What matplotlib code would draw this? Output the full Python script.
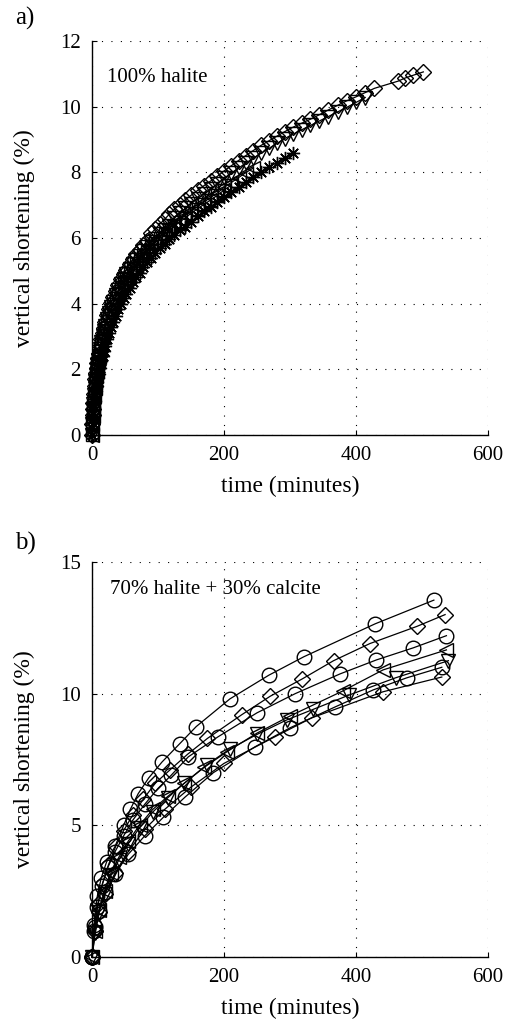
import matplotlib
matplotlib.use("Agg")
import matplotlib.pyplot as plt

plt.rcParams['font.family'] = ['Liberation Serif', 'DejaVu Serif']

# ---------------- Panel a: 100% halite ----------------
time_a = [0, 0.5, 1, 1.5, 2, 3, 4, 5, 6, 7, 8, 9, 10, 12, 14, 16, 18, 20, 23, 26,
          29, 32, 36, 40, 44, 48, 52, 57, 62, 67, 72, 78, 84, 90, 96, 103, 110, 117,
          125, 133, 141, 150, 160, 170, 180, 190, 200, 211, 222, 233, 244, 256, 268,
          280, 292, 305, 318, 331, 344, 358, 372, 386, 400, 414, 428, 464, 474, 487, 502]

a_diamond = [0, 0.35, 0.6, 0.8, 0.97, 1.25, 1.5, 1.7, 1.88, 2.04,
             2.2, 2.34, 2.47, 2.7, 2.91, 3.1, 3.27, 3.43, 3.65, 3.85,
             4.03, 4.19, 4.39, 4.57, 4.74, 4.9, 5.04, 5.21, 5.36, 5.5,
             5.63, 5.78, 5.92, 6.15, 6.28, 6.43, 6.57, 6.72, 6.88, 7.02,
             7.16, 7.3, 7.45, 7.6, 7.74, 7.88, 8.04, 8.2, 8.36, 8.51,
             8.66, 8.82, 8.96, 9.1, 9.24, 9.38, 9.5, 9.62, 9.75, 9.9,
             10.04, 10.18, 10.3, 10.43, 10.56, 10.78, 10.87, 10.96, 11.06]
a_trdown = [0, 0.34, 0.58, 0.78, 0.94, 1.21, 1.46, 1.65, 1.82, 1.98,
            2.13, 2.27, 2.4, 2.62, 2.82, 3.01, 3.17, 3.33, 3.54, 3.73,
            3.91, 4.06, 4.26, 4.43, 4.6, 4.75, 4.89, 5.05, 5.2, 5.34,
            5.46, 5.61, 5.74, 5.87, 5.98, 6.12, 6.25, 6.36, 6.62, 6.76,
            6.9, 7.05, 7.2, 7.35, 7.5, 7.65, 7.82, 7.98, 8.13, 8.28,
            8.43, 8.58, 8.73, 8.88, 9.03, 9.17, 9.3, 9.43, 9.56, 9.7,
            9.84, 9.98, 10.13, 10.28]
a_square = [0, 0.33, 0.57, 0.76, 0.92, 1.19, 1.43, 1.62, 1.79, 1.94,
            2.09, 2.22, 2.35, 2.57, 2.76, 2.95, 3.11, 3.26, 3.47, 3.66,
            3.83, 3.98, 4.17, 4.34, 4.5, 4.66, 4.79, 4.95, 5.09, 5.23,
            5.35, 5.49, 5.62, 5.75, 5.86, 5.99, 6.12, 6.23, 6.37, 6.49,
            6.61, 6.75, 6.89, 7.03, 7.16, 7.3, 7.46, 7.61]
a_trleft = [0, 0.34, 0.58, 0.77, 0.93, 1.2, 1.44, 1.63, 1.8, 1.96,
            2.11, 2.25, 2.37, 2.59, 2.79, 2.98, 3.14, 3.29, 3.5, 3.7,
            3.87, 4.02, 4.21, 4.39, 4.55, 4.7, 4.84, 5.0, 5.15, 5.28,
            5.4, 5.55, 5.68, 5.81, 5.92, 6.06, 6.18, 6.3, 6.43, 6.56,
            6.68, 6.82, 6.96, 7.1, 7.24, 7.37, 7.54, 7.69, 7.84, 7.99,
            8.13]
a_asterisk = [0, 0.2, 0.38, 0.52, 0.64, 0.85, 1.03, 1.19, 1.34, 1.48,
              1.61, 1.73, 1.85, 2.05, 2.24, 2.41, 2.57, 2.72, 2.92, 3.11,
              3.28, 3.44, 3.64, 3.83, 4.0, 4.16, 4.31, 4.49, 4.65, 4.8,
              4.95, 5.11, 5.26, 5.4, 5.54, 5.69, 5.83, 5.96, 6.1, 6.23,
              6.35, 6.5, 6.66, 6.82, 6.96, 7.11, 7.25, 7.41, 7.56, 7.71,
              7.85, 8.0, 8.15, 8.3, 8.44, 8.58]

# ---------------- Panel b: 70% halite + 30% calcite ----------------
b_circ1_t = [0, 3, 8, 14, 22, 35, 48, 58, 70, 86, 106, 133, 158, 209, 268, 321, 429, 518]
b_circ1_v = [0, 1.2, 2.3, 3.0, 3.6, 4.2, 5.0, 5.6, 6.2, 6.8, 7.4, 8.1, 8.75, 9.8, 10.7, 11.4, 12.65, 13.55]
b_diam1_t = [0, 4, 9, 16, 25, 36, 48, 62, 78, 96, 118, 145, 175, 227, 270, 318, 366, 421, 492, 535]
b_diam1_v = [0, 1.0, 2.0, 2.8, 3.5, 4.2, 4.8, 5.4, 6.0, 6.6, 7.1, 7.7, 8.3, 9.2, 9.9, 10.55, 11.25, 11.9, 12.55, 13.0]
b_circ2_t = [0, 3, 8, 15, 24, 35, 48, 62, 80, 100, 120, 146, 191, 250, 308, 376, 431, 487, 537]
b_circ2_v = [0, 1.0, 1.9, 2.7, 3.4, 4.0, 4.6, 5.2, 5.8, 6.4, 6.9, 7.6, 8.36, 9.27, 10.0, 10.75, 11.28, 11.74, 12.2]
b_left_t = [0, 5, 11, 19, 29, 41, 55, 72, 92, 115, 140, 170, 205, 250, 300, 380, 441, 537]
b_left_v = [0, 1.0, 1.8, 2.5, 3.2, 3.8, 4.4, 5.0, 5.6, 6.1, 6.6, 7.2, 7.8, 8.5, 9.15, 10.1, 10.9, 11.66]
b_down_t = [0, 5, 11, 19, 29, 41, 55, 72, 92, 115, 140, 174, 209, 250, 295, 335, 390, 460, 540]
b_down_v = [0, 0.9, 1.7, 2.4, 3.1, 3.7, 4.3, 4.9, 5.5, 6.05, 6.6, 7.3, 7.9, 8.45, 9.0, 9.4, 9.95, 10.6, 11.25]
b_circ3_t = [0, 4, 10, 20, 35, 55, 80, 108, 141, 184, 247, 300, 368, 426, 477, 530]
b_circ3_v = [0, 1.15, 1.75, 2.45, 3.15, 3.9, 4.6, 5.3, 6.07, 7.0, 7.98, 8.7, 9.49, 10.14, 10.6, 11.0]
b_diam2_t = [0, 4, 10, 20, 35, 55, 80, 110, 150, 200, 277, 333, 441, 530]
b_diam2_v = [0, 1.0, 1.7, 2.4, 3.2, 4.0, 4.85, 5.6, 6.45, 7.35, 8.36, 9.08, 10.07, 10.63]

x_ticks = [0, 200, 400, 600]
a_yticks = [0, 2, 4, 6, 8, 10, 12]
b_yticks = [0, 5, 10, 15]

fig = plt.figure(figsize=(5.11, 10.26), dpi=100)
ax_a = fig.add_axes([0.180, 0.576, 0.775, 0.384])
ax_b = fig.add_axes([0.180, 0.0673, 0.775, 0.385])

style = dict(color='black', lw=0.9, mfc='none', mec='black', mew=1.0, clip_on=False)

ax_a.plot(time_a[:len(a_square)], a_square, marker='s', ms=8, **style)
ax_a.plot(time_a[:len(a_trleft)], a_trleft, marker='<', ms=9.5, **style)
ax_a.plot(time_a[:len(a_asterisk)], a_asterisk, marker=(8, 2, 0), ms=9.5, **style)
ax_a.plot(time_a[:len(a_trdown)], a_trdown, marker='v', ms=9.5, **style)
ax_a.plot(time_a[:len(a_diamond)], a_diamond, marker='D', ms=8.3, **style)

ax_b.plot(b_circ1_t, b_circ1_v, marker='o', ms=10.5, **style)
ax_b.plot(b_diam1_t, b_diam1_v, marker='D', ms=8, **style)
ax_b.plot(b_circ2_t, b_circ2_v, marker='o', ms=10.5, **style)
ax_b.plot(b_left_t, b_left_v, marker='<', ms=9.5, **style)
ax_b.plot(b_down_t, b_down_v, marker='v', ms=9.5, **style)
ax_b.plot(b_circ3_t, b_circ3_v, marker='o', ms=10.5, **style)
ax_b.plot(b_diam2_t, b_diam2_v, marker='D', ms=8, **style)

for ax, yt, ylim in ((ax_a, a_yticks, 12), (ax_b, b_yticks, 15)):
    ax.set_xlim(0, 600)
    ax.set_ylim(0, ylim)
    ax.set_xticks(x_ticks)
    ax.set_yticks(yt)
    ax.spines['top'].set_visible(False)
    ax.spines['right'].set_visible(False)
    ax.spines['left'].set_linewidth(1.0)
    ax.spines['bottom'].set_linewidth(1.0)
    ax.tick_params(direction='in', length=3.5, width=0.8, labelsize=15, pad=8,
                   top=False, right=False)
    ax.grid(True, color='black', linestyle=(0, (1, 7.5)), linewidth=0.8)
    ax.set_axisbelow(True)
    ax.set_xlabel('time (minutes)', fontsize=17, labelpad=8)
    ax.set_ylabel('vertical shortening (%)', fontsize=17)
    ax.yaxis.set_label_coords(-0.145, 0.5)
    ax.set_facecolor('none')

ax_a.text(23, 10.9, '100% halite', fontsize=15, ha='left', va='center')
ax_b.text(27, 13.95, '70% halite + 30% calcite', fontsize=15, ha='left', va='center')

fig.text(0.029, 0.993, 'a)', fontsize=18, ha='left', va='top')
fig.text(0.029, 0.482, 'b)', fontsize=18, ha='left', va='top')

fig.savefig('out.png', dpi=100)
